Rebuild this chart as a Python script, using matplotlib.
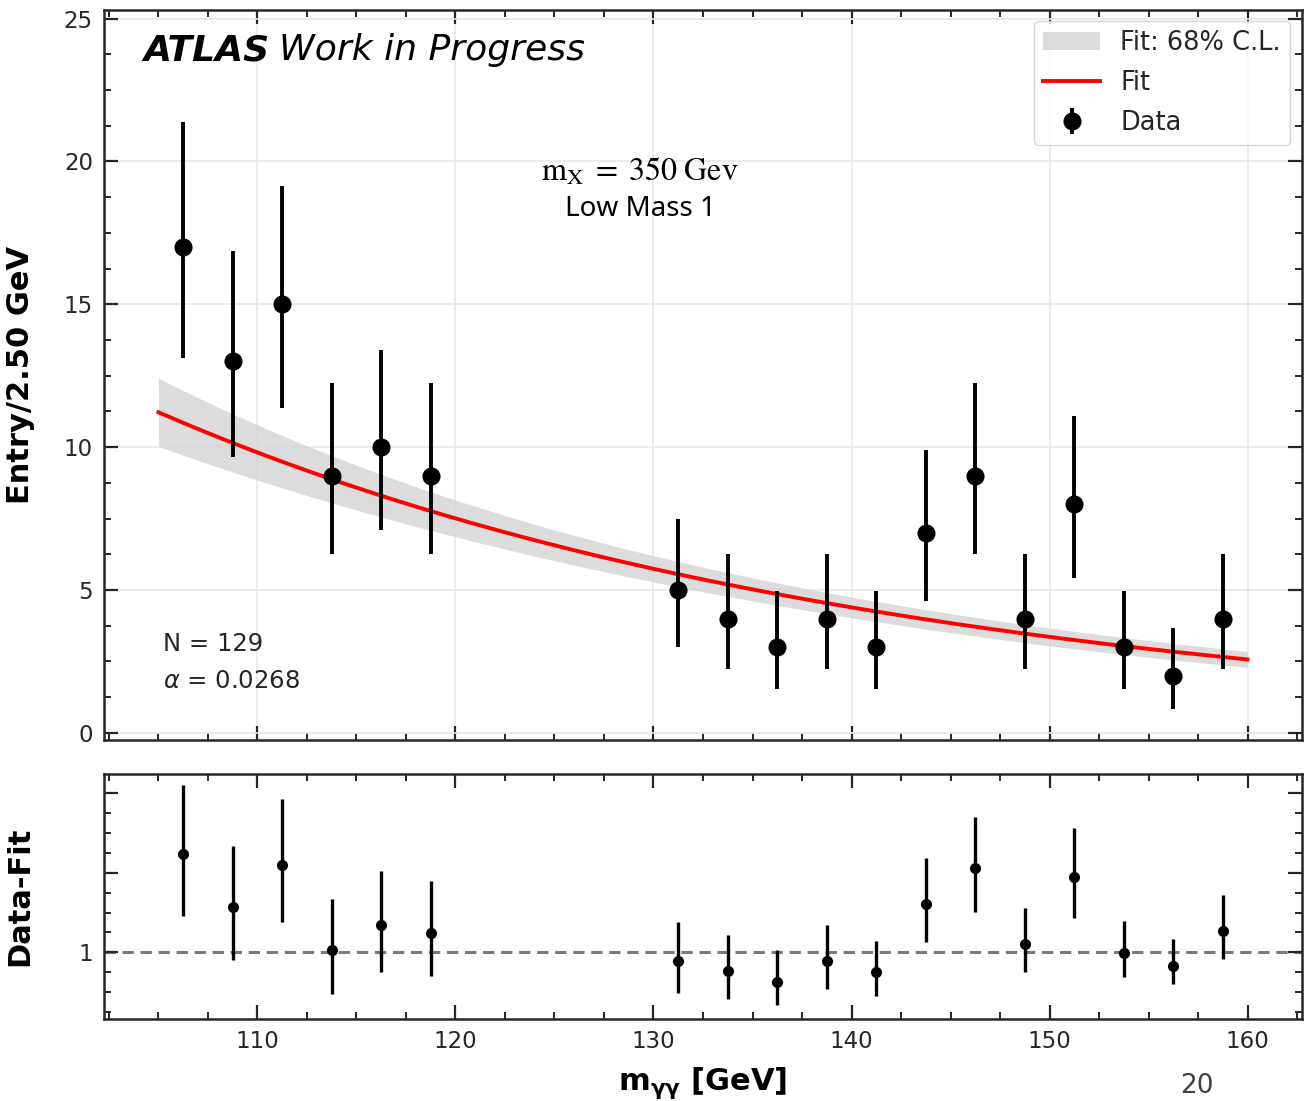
import numpy as np
import matplotlib.pyplot as plt
from matplotlib.ticker import FixedLocator, FixedFormatter, MultipleLocator

# datos: centros de bin (2.5 GeV) y cuentas, region de señal cegada
centros = [106.25, 108.75, 111.25, 113.75, 116.25, 118.75,
           131.25, 133.75, 136.25, 138.75, 141.25, 143.75,
           146.25, 148.75, 151.25, 153.75, 156.25, 158.75]
cuentas = [17, 13, 15, 9, 10, 9,
           5, 4, 3, 4, 3, 7,
           9, 4, 8, 3, 2, 4]

# parametros del ajuste exponencial
norma = 11.22        # valor del ajuste en 105 GeV
alfa = 0.0268
err_norma = 0.08     # incertidumbre relativa en el pivote
pivote = 132.0
err_alfa = 0.0026
rango_ajuste = (105, 160)

x = np.array(centros)
n = np.array(cuentas, dtype=float)
err_bajo = n - (np.sqrt(n) - 0.5)**2
err_alto = (np.sqrt(n) + 0.5)**2 - n

def ajuste(m):
    return norma*np.exp(-alfa*(np.asarray(m) - rango_ajuste[0]))

m = np.linspace(rango_ajuste[0], rango_ajuste[1], 300)
f = ajuste(m)
rel = np.sqrt(err_norma**2 + (err_alfa*(m - pivote))**2)

residuo = 1 + (n - ajuste(x))

gris = '#262626'
plt.rcParams['font.family'] = ['DejaVu Sans']

fig = plt.figure(figsize=(13.12, 11.01), dpi=100)
ax = fig.add_axes([104/1312, 1-740/1101, 1198/1312, 730/1101])
rax = fig.add_axes([104/1312, 1-1019.3/1101, 1198/1312, 245/1101])

ax.grid(True, color='#e8e8e8', lw=1.2, zorder=0)
ax.fill_between(m, f*(1-rel), f*(1+rel), color='#d6d6d6', alpha=0.85,
                lw=0, label='Fit: 68% C.L.', zorder=2)
ax.plot(m, f, color='red', lw=2.8, label='Fit', zorder=3)
ax.errorbar(x, n, yerr=[err_bajo, err_alto], fmt='o', color='black',
            ms=12, elinewidth=2.8, capsize=0, label='Data', zorder=4)

ax.set_xlim(102.25, 162.75)
ax.set_ylim(-0.25, 25.3)
ax.yaxis.set_major_locator(MultipleLocator(5))
ax.yaxis.set_minor_locator(MultipleLocator(1.25))
ax.xaxis.set_major_locator(MultipleLocator(10))
ax.xaxis.set_minor_locator(MultipleLocator(2.5))
ax.set_xticklabels([])
ax.set_ylabel('Entry/2.50 GeV', fontsize=22, fontweight='bold')
ax.yaxis.set_label_coords(-0.058, 0.5)

leg = ax.legend(loc='upper right', bbox_to_anchor=(0.99, 0.985),
                borderaxespad=0, fontsize=18.5, handlelength=2.2,
                handletextpad=0.8, labelspacing=0.55, borderpad=0.35,
                fancybox=True)
for t in leg.get_texts():
    t.set_color(gris)

t1 = ax.text(0.0326, 0.945, 'ATLAS', transform=ax.transAxes, fontsize=26,
             fontweight='bold', style='italic', va='center')
ax.annotate('Work in Progress', xy=(1, 0), xycoords=t1, xytext=(7, 0),
            textcoords='offset points', va='bottom', ha='left',
            fontsize=26, style='italic')

ax.text(0.4474, 0.778, r'$\mathrm{m_X}\;=\;350\ \mathrm{Gev}$', transform=ax.transAxes,
        fontsize=23, ha='center', va='center', math_fontfamily='stix')
ax.text(0.4474, 0.727, 'Low Mass 1', transform=ax.transAxes, fontsize=20,
        ha='center', va='center', family=['Noto Sans', 'DejaVu Sans'])

ax.text(0.0492, 0.1315, 'N = 129', transform=ax.transAxes, fontsize=17.5,
        va='center', color=gris)
ax.text(0.0492, 0.0808, r'$\alpha$ = 0.0268', transform=ax.transAxes, fontsize=17.5,
        va='center', color=gris)

# panel inferior: datos - ajuste
rax.axhline(1, color='#7a7a7a', lw=2.2, ls=(0, (3.7, 2.2)), zorder=1)
rax.errorbar(x, residuo, yerr=[err_bajo, err_alto], fmt='o', color='black',
             ms=7, elinewidth=2.4, capsize=0, zorder=3)
rax.set_xlim(102.25, 162.75)
rax.set_ylim(-3.21, 12.19)
rax.yaxis.set_major_locator(FixedLocator([1, 6, 11]))
rax.yaxis.set_major_formatter(FixedFormatter(['1', '', '']))
rax.yaxis.set_minor_locator(FixedLocator(1 + 1.25*np.arange(-3, 9)))
rax.xaxis.set_major_locator(MultipleLocator(10))
rax.xaxis.set_minor_locator(MultipleLocator(2.5))
rax.set_ylabel('Data-Fit', fontsize=22, fontweight='bold')
rax.yaxis.set_label_coords(-0.058, 0.5)
rax.set_xlabel(r'$\mathbf{m_{\gamma\gamma}}$ [GeV]', fontsize=22,
               fontweight='bold', labelpad=9)

for a in (ax, rax):
    a.tick_params(which='both', direction='in', top=True, right=True,
                  labelsize=16.5, labelcolor=gris, color=gris, pad=8)
    a.tick_params(which='major', length=10, width=1.6)
    a.tick_params(which='minor', length=5, width=1.4)
    for s in a.spines.values():
        s.set_linewidth(1.8)
        s.set_color(gris)

fig.text(0.912, 0.002, '20', ha='center', va='bottom', fontsize=19,
         color='#404040')

fig.savefig('out.png', dpi=100)
